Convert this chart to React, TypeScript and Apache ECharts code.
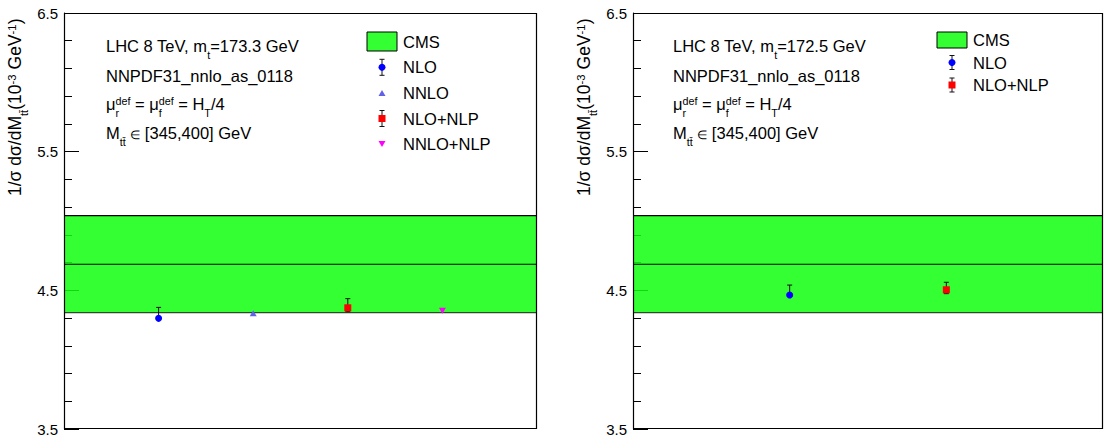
import React, { useEffect, useRef } from "react";
import * as echarts from "echarts";

// ---------------- data ----------------
const yTicks = [3.5, 4.5, 5.5, 6.5];

const cmsLow = 4.339;
const cmsCentral = 4.688;
const cmsHigh = 5.039;

const leftCategories = ["NLO", "NNLO", "NLO+NLP", "NNLO+NLP"];
const leftPositions = [1, 2, 3, 4];
const leftValues = [4.298, 4.334, 4.374, 4.352];
const leftErrLow: (number | null)[] = [4.29, null, 4.346, null];
const leftErrHigh: (number | null)[] = [4.377, null, 4.44, null];
const leftXMax = 5;
const leftTopMass = "173.3";

const rightCategories = ["NLO", "NLO+NLP"];
const rightPositions = [1, 2];
const rightValues = [4.466, 4.504];
const rightErrLow: (number | null)[] = [4.455, 4.476];
const rightErrHigh: (number | null)[] = [4.538, 4.558];
const rightXMax = 3;
const rightTopMass = "172.5";

// ---------------- styles ----------------
const FONT = '"Liberation Sans", Arial, Helvetica, sans-serif';
const TEXT_SIZE = 16.5;
const TITLE_SIZE = 17.5;
const SCRIPT_RATIO = 0.65;
const BAND_FILL = "rgba(15,255,15,0.85)";
const LEGEND_FILL = "#33ff33";

const markerStyles: Record<string, any> = {
  NLO: { symbol: "circle", size: 7, color: "#0000ff", rotate: 0 },
  NNLO: { symbol: "triangle", size: [7, 6], color: "#6161e6", rotate: 0 },
  "NLO+NLP": { symbol: "rect", size: 7, color: "#ff0000", rotate: 0 },
  "NNLO+NLP": { symbol: "triangle", size: [7, 6], color: "#ff00ff", rotate: 180 },
};

// ---------------- text helpers ----------------
let measureCtx: CanvasRenderingContext2D | null = null;
function measure(text: string, size: number): number {
  if (!measureCtx) measureCtx = document.createElement("canvas").getContext("2d");
  measureCtx!.font = `${size}px ${FONT}`;
  return measureCtx!.measureText(text).width;
}

type Seg = { t?: string; sub?: string; sup?: string; size?: number };

function textEl(text: string, x: number, baseline: number, size: number) {
  const lead = (text.match(/^\s*/) as RegExpMatchArray)[0];
  const body = text.trim();
  return {
    type: "text",
    x: x + (lead ? measure(lead, size) : 0),
    y: baseline - 0.35 * size,
    silent: true,
    style: {
      text: body,
      fontSize: size,
      fontFamily: FONT,
      fill: "#000",
      align: "left",
      verticalAlign: "middle",
    },
  };
}

function layoutSegments(segs: Seg[], x0: number, baseline: number, size: number): any[] {
  const ss = size * SCRIPT_RATIO;
  const subDy = 0.42 * size;
  const supDy = 0.3 * size;
  const out: any[] = [];
  let x = x0;
  for (const seg of segs) {
    if (seg.t !== undefined) {
      const s = seg.size ?? size;
      out.push(textEl(seg.t, x, baseline, s));
      x += measure(seg.t, s);
    } else {
      let w = 0;
      if (seg.sub) {
        out.push(textEl(seg.sub, x, baseline + subDy, ss));
        w = Math.max(w, measure(seg.sub, ss));
      }
      if (seg.sup) {
        out.push(textEl(seg.sup, x, baseline - supDy, ss));
        w = Math.max(w, measure(seg.sup, ss));
      }
      x += w;
    }
  }
  return out;
}

function annotation(x0: number, mass: string): any[] {
  const lines: Seg[][] = [
    [{ t: "LHC 8 TeV, m" }, { sub: "t" }, { t: `=${mass} GeV` }],
    [{ t: "NNPDF31_nnlo_as_0118" }],
    [
      { t: "μ" },
      { sub: "r", sup: "def" },
      { t: " = μ" },
      { sub: "f", sup: "def" },
      { t: " = H" },
      { sub: "T" },
      { t: "/4" },
    ],
    [{ t: "M" }, { sub: "tt\u0304" }, { t: " " }, { t: "∈", size: 12 }, { t: " [345,400] GeV" }],
  ];
  const baselines = [52, 81.5, 110, 139];
  const out: any[] = [];
  lines.forEach((segs, i) => out.push(...layoutSegments(segs, x0, baselines[i], TEXT_SIZE)));
  return out;
}

function yTitle(xBase: number, yStart: number) {
  const segs: Seg[] = [
    { t: "1/σ dσ/dM" },
    { sub: "tt\u0304" },
    { t: "(10" },
    { sup: "-3" },
    { t: " GeV" },
    { sup: "-1" },
    { t: ")" },
  ];
  return {
    type: "group",
    x: xBase,
    y: yStart,
    rotation: Math.PI / 2,
    silent: true,
    children: layoutSegments(segs, 0, 0, TITLE_SIZE),
  };
}

function legendMarker(name: string, cx: number, cy: number, withBar: boolean, half: number): any[] {
  const st = markerStyles[name];
  const out: any[] = [];
  if (withBar) {
    out.push(
      { type: "line", silent: true, shape: { x1: cx, y1: cy - half, x2: cx, y2: cy + half }, style: { stroke: "#111", lineWidth: 1 } },
      { type: "line", silent: true, shape: { x1: cx - 2.5, y1: cy - half, x2: cx + 2.5, y2: cy - half }, style: { stroke: "#111", lineWidth: 1 } },
      { type: "line", silent: true, shape: { x1: cx - 2.5, y1: cy + half, x2: cx + 2.5, y2: cy + half }, style: { stroke: "#111", lineWidth: 1 } }
    );
  }
  if (st.symbol === "circle") {
    out.push({ type: "circle", silent: true, shape: { cx, cy, r: 3.5 }, style: { fill: st.color } });
  } else if (st.symbol === "rect") {
    out.push({ type: "rect", silent: true, shape: { x: cx - 3.5, y: cy - 3.5, width: 7, height: 7 }, style: { fill: st.color } });
  } else if (st.rotate === 180) {
    out.push({ type: "polygon", silent: true, shape: { points: [[cx - 3.5, cy - 3], [cx + 3.5, cy - 3], [cx, cy + 3]] }, style: { fill: st.color } });
  } else {
    out.push({ type: "polygon", silent: true, shape: { points: [[cx - 3.5, cy + 3], [cx + 3.5, cy + 3], [cx, cy - 3]] }, style: { fill: st.color } });
  }
  return out;
}

function legend(
  names: string[],
  errHigh: (number | null)[],
  box: { x: number; y: number; w: number; h: number },
  markerX: number,
  textX: number,
  rowY0: number,
  rowStep: number,
  half: number
): any[] {
  const out: any[] = [];
  out.push({
    type: "rect",
    silent: true,
    shape: { x: box.x, y: box.y, width: box.w, height: box.h },
    style: { fill: LEGEND_FILL, stroke: "#000", lineWidth: 1 },
  });
  out.push(textEl("CMS", textX, rowY0 + 0.35 * TEXT_SIZE, TEXT_SIZE));
  names.forEach((n, i) => {
    const cy = rowY0 + (i + 1) * rowStep;
    out.push(...legendMarker(n, markerX, cy, errHigh[i] !== null, half));
    out.push(textEl(n, textX, cy + 0.35 * TEXT_SIZE, TEXT_SIZE));
  });
  return out;
}

// ---------------- series builders ----------------
function yAxisCfg(gridIndex: number) {
  return {
    gridIndex,
    type: "value",
    min: yTicks[0],
    max: yTicks[yTicks.length - 1],
    interval: yTicks[1] - yTicks[0],
    axisLine: { show: true, lineStyle: { color: "#000", width: 1 } },
    axisTick: { show: true, inside: true, length: 15, lineStyle: { color: "#000", width: 1 } },
    minorTick: { show: true, splitNumber: 5, length: 8, lineStyle: { color: "#000", width: 1 } },
    axisLabel: {
      color: "#000",
      fontSize: 15,
      fontFamily: FONT,
      margin: 6,
      formatter: (v: number) => v.toFixed(1),
    },
    splitLine: { show: false },
    minorSplitLine: { show: false },
  };
}

function bandSeries(idx: number, xMax: number) {
  return {
    type: "custom",
    xAxisIndex: idx,
    yAxisIndex: idx,
    silent: true,
    z: 1,
    data: [[0, cmsCentral]],
    renderItem: (_p: any, api: any) => {
      const p1 = api.coord([0, cmsHigh]);
      const p2 = api.coord([xMax, cmsLow]);
      const pc = api.coord([0, cmsCentral]);
      return {
        type: "group",
        children: [
          { type: "rect", shape: { x: p1[0], y: p1[1], width: p2[0] - p1[0], height: p2[1] - p1[1] }, style: { fill: BAND_FILL } },
          { type: "line", shape: { x1: p1[0], y1: p1[1], x2: p2[0], y2: p1[1] }, style: { stroke: "#000", lineWidth: 1.2 } },
          { type: "line", shape: { x1: p1[0], y1: pc[1], x2: p2[0], y2: pc[1] }, style: { stroke: "#000", lineWidth: 1.2 } },
          { type: "line", shape: { x1: p1[0], y1: p2[1], x2: p2[0], y2: p2[1] }, style: { stroke: "#2a4a2a", lineWidth: 1.4 } },
        ],
      };
    },
  };
}

function errorSeries(idx: number, pos: number[], lo: (number | null)[], hi: (number | null)[]) {
  const data: number[][] = [];
  pos.forEach((x, i) => {
    if (lo[i] !== null && hi[i] !== null) data.push([x, lo[i] as number, hi[i] as number]);
  });
  return {
    type: "custom",
    xAxisIndex: idx,
    yAxisIndex: idx,
    silent: true,
    z: 3,
    data,
    renderItem: (_p: any, api: any) => {
      const x = api.value(0);
      const pl = api.coord([x, api.value(1)]);
      const ph = api.coord([x, api.value(2)]);
      const s = { stroke: "#111", lineWidth: 1 };
      return {
        type: "group",
        children: [
          { type: "line", shape: { x1: pl[0], y1: pl[1], x2: ph[0], y2: ph[1] }, style: s },
          { type: "line", shape: { x1: ph[0] - 2.5, y1: ph[1], x2: ph[0] + 2.5, y2: ph[1] }, style: s },
          { type: "line", shape: { x1: pl[0] - 2.5, y1: pl[1], x2: pl[0] + 2.5, y2: pl[1] }, style: s },
        ],
      };
    },
  };
}

function pointSeries(idx: number, cats: string[], pos: number[], vals: number[]) {
  return cats.map((c, i) => {
    const st = markerStyles[c];
    return {
      type: "scatter",
      name: c,
      xAxisIndex: idx,
      yAxisIndex: idx,
      silent: true,
      z: 4,
      symbol: st.symbol,
      symbolSize: st.size,
      symbolRotate: st.rotate,
      itemStyle: { color: st.color, opacity: 1 },
      data: [[pos[i], vals[i]]],
    };
  });
}

function frameSeries(idx: number, xMax: number) {
  return {
    type: "custom",
    xAxisIndex: idx,
    yAxisIndex: idx,
    silent: true,
    z: 6,
    data: [[0, yTicks[0]]],
    renderItem: (_p: any, api: any) => {
      const a = api.coord([0, yTicks[yTicks.length - 1]]);
      const b = api.coord([xMax, yTicks[0]]);
      const x1 = Math.round(a[0]) + 0.5;
      const y1 = Math.round(a[1]) + 0.5;
      const x2 = Math.round(b[0]) - 0.5;
      const y2 = Math.round(b[1]) - 0.5;
      return {
        type: "rect",
        shape: { x: x1, y: y1, width: x2 - x1, height: y2 - y1 },
        style: { fill: "none", stroke: "#000", lineWidth: 1.2 },
      };
    },
  };
}

function buildOption() {
  const graphic: any[] = [
    yTitle(21, 196),
    yTitle(590, 196),
    ...annotation(106, leftTopMass),
    ...annotation(673, rightTopMass),
    ...legend(leftCategories, leftErrHigh, { x: 367, y: 32, w: 30, h: 19 }, 382, 403, 41.7, 25.6, 8),
    ...legend(rightCategories, rightErrHigh, { x: 937, y: 32, w: 30, h: 16 }, 952, 973, 40, 22.5, 7),
  ];
  return {
    animation: false,
    backgroundColor: "#ffffff",
    textStyle: { fontFamily: FONT },
    grid: [
      { left: 64, top: 13, width: 473, height: 416 },
      { left: 633, top: 13, width: 470, height: 416 },
    ],
    xAxis: [
      { gridIndex: 0, type: "value", min: 0, max: leftXMax, show: false },
      { gridIndex: 1, type: "value", min: 0, max: rightXMax, show: false },
    ],
    yAxis: [yAxisCfg(0), yAxisCfg(1)],
    series: [
      bandSeries(0, leftXMax),
      bandSeries(1, rightXMax),
      errorSeries(0, leftPositions, leftErrLow, leftErrHigh),
      errorSeries(1, rightPositions, rightErrLow, rightErrHigh),
      ...pointSeries(0, leftCategories, leftPositions, leftValues),
      ...pointSeries(1, rightCategories, rightPositions, rightValues),
      frameSeries(0, leftXMax),
      frameSeries(1, rightXMax),
    ],
    graphic,
  };
}

export default function App() {
  const ref = useRef<HTMLDivElement>(null);
  useEffect(() => {
    if (!ref.current) return;
    const chart = echarts.init(ref.current, null, { renderer: "svg" });
    chart.setOption(buildOption() as any);
    return () => chart.dispose();
  }, []);
  return (
    <div
      ref={ref}
      style={{ position: "absolute", left: 0, top: 0, width: 1105, height: 437, background: "#fff" }}
    />
  );
}
